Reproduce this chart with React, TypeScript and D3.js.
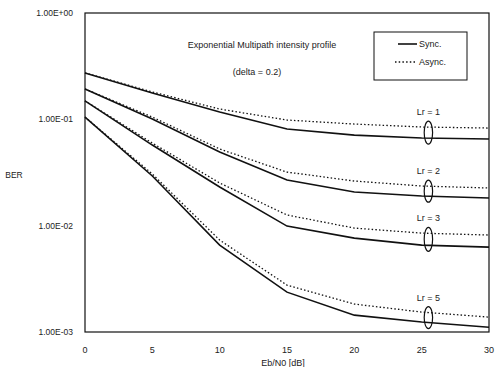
import React from "react";
import * as d3 from "d3";

const snr = [0, 5, 10, 15, 20, 25, 30];
const syncLr1 = [0.273, 0.177, 0.117, 0.081, 0.0711, 0.0667, 0.0653];
const asyncLr1 = [0.273, 0.181, 0.125, 0.0985, 0.0903, 0.0847, 0.0828];
const syncLr2 = [0.193, 0.1007, 0.0492, 0.0269, 0.0207, 0.019, 0.0182];
const asyncLr2 = [0.193, 0.105, 0.0526, 0.0319, 0.0263, 0.0236, 0.0226];
const syncLr3 = [0.149, 0.0573, 0.0231, 0.00991, 0.00764, 0.00656, 0.00629];
const asyncLr3 = [0.149, 0.0598, 0.0252, 0.0126, 0.00949, 0.00851, 0.00816];
const syncLr5 = [0.105, 0.0293, 0.00656, 0.00237, 0.00144, 0.00124, 0.00111];
const asyncLr5 = [0.105, 0.0306, 0.00732, 0.00276, 0.00183, 0.00154, 0.00138];

const xTicks = [0, 5, 10, 15, 20, 25, 30];
const yTicks = [1, 0.1, 0.01, 0.001];
const yTickLabels = ["1.00E+00", "1.00E-01", "1.00E-02", "1.00E-03"];

const groups = [
  { label: "Lr = 1", sync: syncLr1, async: asyncLr1, at: 25.5 },
  { label: "Lr = 2", sync: syncLr2, async: asyncLr2, at: 25.5 },
  { label: "Lr = 3", sync: syncLr3, async: asyncLr3, at: 25.5 },
  { label: "Lr = 5", sync: syncLr5, async: asyncLr5, at: 25.5 },
];

export default function App() {
  const W = 498, H = 367;
  const L = 85, R = 489, T = 13, B = 332;
  const x = d3.scaleLinear().domain([0, 30]).range([L, R]);
  const y = d3.scaleLog().domain([0.001, 1]).range([B, T]);
  const line = d3
    .line<number>()
    .x((_, i) => x(snr[i]))
    .y((d) => y(d));
  const font = "'Liberation Sans', Arial, sans-serif";
  const interp = (arr: number[], v: number) => {
    const i = Math.min(snr.length - 2, Math.floor(v / 5));
    const t = (v - snr[i]) / 5;
    return Math.exp(Math.log(arr[i]) * (1 - t) + Math.log(arr[i + 1]) * t);
  };
  return (
    <svg width={W} height={H} style={{ position: "absolute", left: 0, top: 0, background: "#fff" }} fontFamily={font}>
      {/* frame */}
      <rect x={L} y={T} width={R - L} height={B - T} fill="none" stroke="#111" strokeWidth={1.2} />
      {/* curves */}
      {groups.map((g, k) => (
        <g key={k}>
          <path d={line(g.sync) || ""} fill="none" stroke="#111" strokeWidth={1.6} />
          <path d={line(g.async) || ""} fill="none" stroke="#111" strokeWidth={1.3} strokeDasharray="1.5 2.2" />
        </g>
      ))}
      {/* ellipses & labels */}
      {groups.map((g, k) => {
        const ys = y(interp(g.sync, g.at));
        const ya = y(interp(g.async, g.at));
        const cy = (ys + ya) / 2;
        const ry = Math.abs(ys - ya) / 2 + 6;
        const cx = x(g.at);
        return (
          <g key={"e" + k}>
            <ellipse cx={cx} cy={cy} rx={4.2} ry={ry} fill="none" stroke="#111" strokeWidth={1.2} />
            <text x={cx} y={cy - ry - 6} fontSize={9} textAnchor="middle" fill="#222">
              {g.label}
            </text>
          </g>
        );
      })}
      {/* y ticks */}
      {yTicks.map((v, i) => (
        <text key={i} x={73} y={y(v) + 3} fontSize={8.5} textAnchor="end" fill="#222">
          {yTickLabels[i]}
        </text>
      ))}
      {/* x ticks */}
      {xTicks.map((v, i) => (
        <text key={i} x={x(v)} y={353} fontSize={9} textAnchor="middle" fill="#222">
          {v}
        </text>
      ))}
      <text x={283} y={366} fontSize={9} textAnchor="middle" fill="#222">
        Eb/N0 [dB]
      </text>
      <text x={14} y={178} fontSize={8.5} textAnchor="middle" fill="#222">
        BER
      </text>
      {/* annotation */}
      <text x={262} y={48} fontSize={9} textAnchor="middle" fill="#222">
        Exponential Multipath intensity profile
      </text>
      <text x={257} y={75} fontSize={9} textAnchor="middle" fill="#222">
        (delta = 0.2)
      </text>
      {/* legend */}
      <rect x={374} y={32} width={93} height={48} fill="#fff" stroke="#111" strokeWidth={1} />
      <line x1={398} x2={417} y1={44} y2={44} stroke="#111" strokeWidth={1.6} />
      <text x={419} y={47} fontSize={9} fill="#222">
        Sync.
      </text>
      <line x1={395} x2={417} y1={62} y2={62} stroke="#111" strokeWidth={1.3} strokeDasharray="1.5 2.2" />
      <text x={419} y={65} fontSize={9} fill="#222">
        Async.
      </text>
    </svg>
  );
}
